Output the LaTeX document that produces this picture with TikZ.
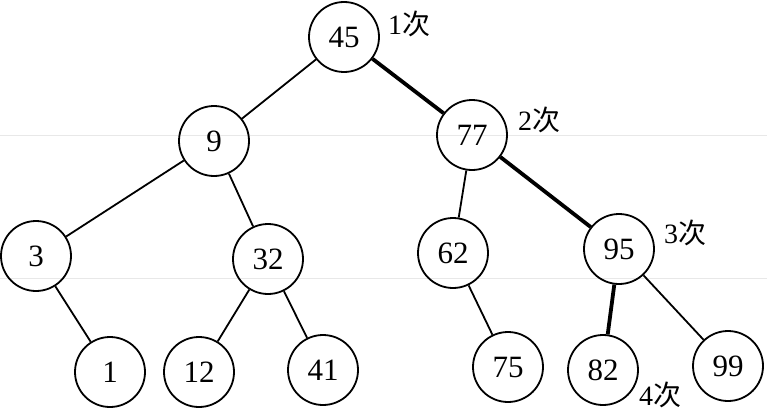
\documentclass[tikz,border=0pt]{standalone}
\usepackage{fontspec}
\setmainfont{Liberation Serif}
\newfontfamily\cjk{Noto Sans CJK SC}
\begin{document}
\begin{tikzpicture}[x=1pt,y=-1pt,
  nd/.style={circle,draw,line width=1.8pt,minimum size=70pt,inner sep=0pt,font=\fontsize{31}{31}\selectfont},
  lbl/.style={font=\fontsize{28}{28}\selectfont,inner sep=0pt},
  thin/.style={line width=1.8pt},
  thick/.style={line width=3.8pt}]
\useasboundingbox (0,0) rectangle (767,412);
\draw[black!9,line width=0.8pt] (0,135) -- (767,135);
\draw[black!9,line width=0.8pt] (0,278) -- (767,278);
\node[nd] (n45) at (344,37) {45};
\node[nd] (n9) at (214,141) {9};
\node[nd] (n77) at (472,135) {77};
\node[nd] (n3) at (36,256) {3};
\node[nd] (n32) at (268,259) {32};
\node[nd] (n62) at (453,253) {62};
\node[nd] (n95) at (619,249) {95};
\node[nd] (n1) at (110,372) {1};
\node[nd] (n12) at (199,372) {12};
\node[nd] (n41) at (323,370) {41};
\node[nd] (n75) at (508,367) {75};
\node[nd] (n82) at (603,370) {82};
\node[nd] (n99) at (728,366) {99};
\draw[thin] (n45) -- (n9);
\draw[thick] (n45) -- (n77);
\draw[thin] (n9) -- (n3);
\draw[thin] (n9) -- (n32);
\draw[thin] (n77) -- (n62);
\draw[thick] (n77) -- (n95);
\draw[thin] (n3) -- (n1);
\draw[thin] (n32) -- (n12);
\draw[thin] (n32) -- (n41);
\draw[thin] (n62) -- (n75);
\draw[thick] (n95) -- (n82);
\draw[thin] (n95) -- (n99);
\node[lbl] (l1) at (409,24) {1{\cjk 次}};
\node[lbl] (l2) at (539,120) {2{\cjk 次}};
\node[lbl] (l3) at (685,233) {3{\cjk 次}};
\node[lbl] (l4) at (660,395) {4{\cjk 次}};
\end{tikzpicture}
\end{document}
